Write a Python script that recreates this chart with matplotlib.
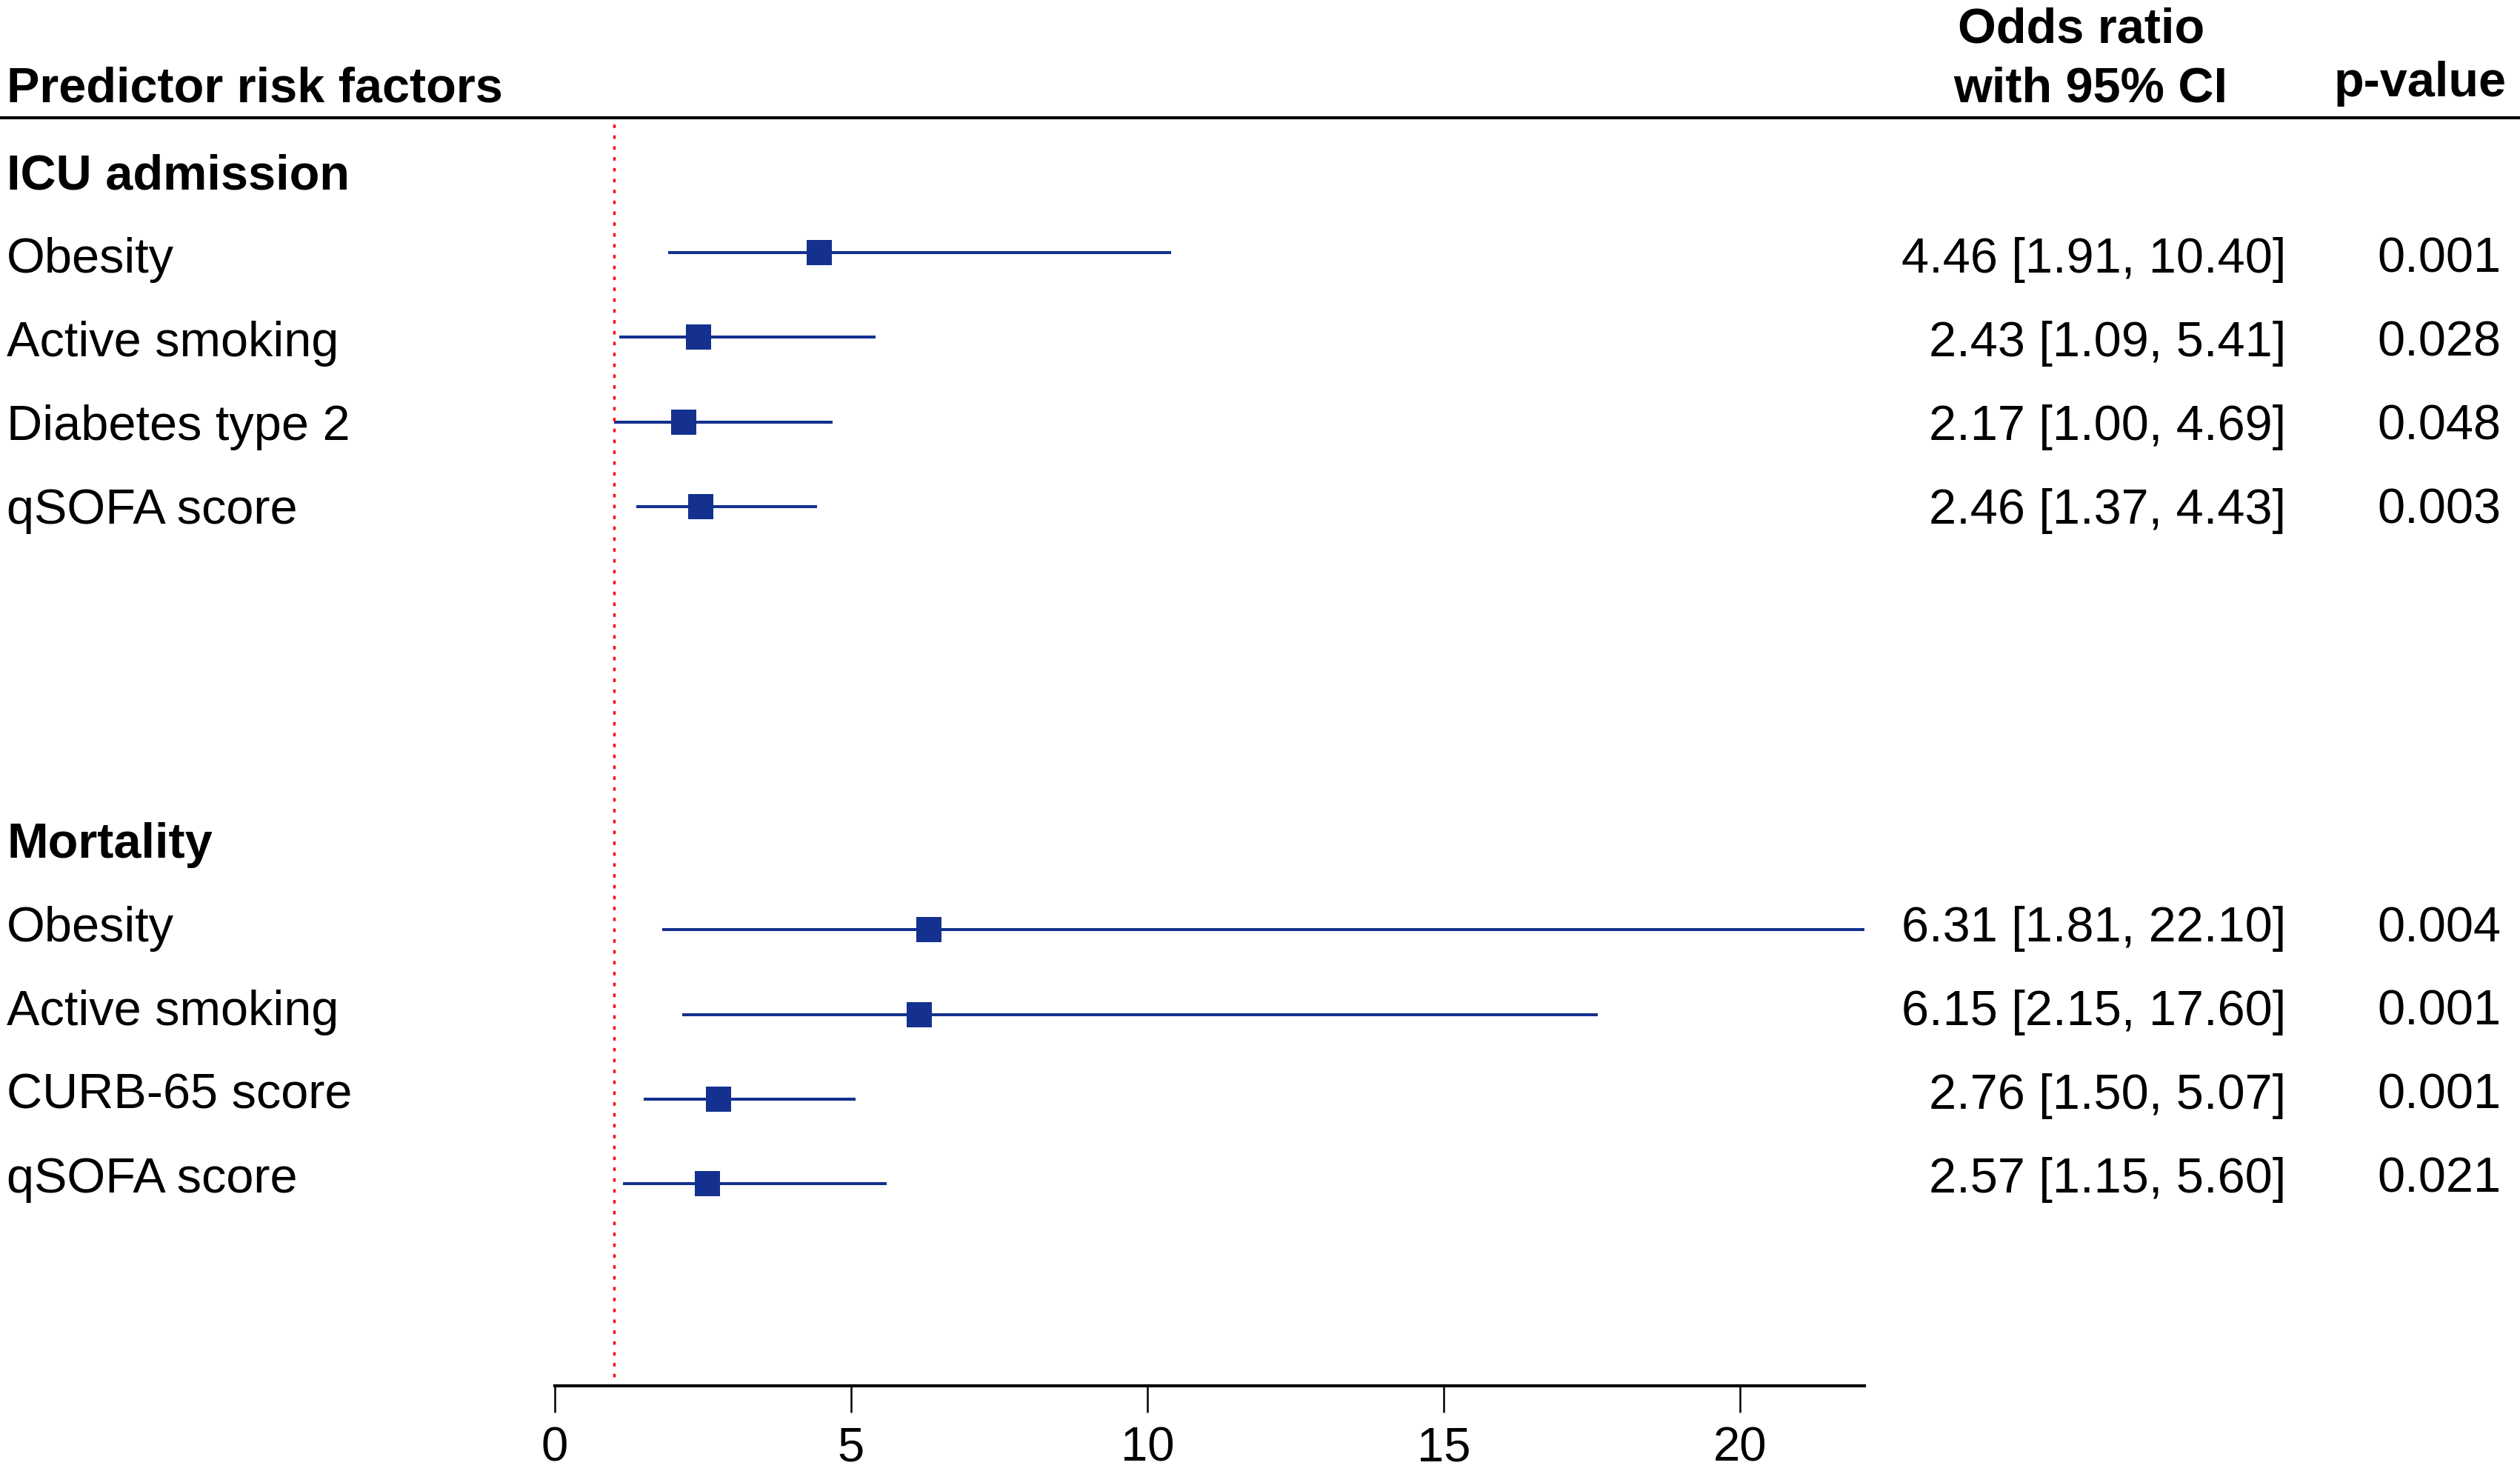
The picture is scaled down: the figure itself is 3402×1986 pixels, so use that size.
import matplotlib
matplotlib.use("Agg")
import matplotlib.pyplot as plt
import numpy as np

plt.rcParams['font.family'] = ['Liberation Sans', 'DejaVu Sans']

# ---- data ----
groups = ["ICU admission", "Mortality"]
icu_factors = ["Obesity", "Active smoking", "Diabetes type 2", "qSOFA score"]
icu_or = [4.46, 2.43, 2.17, 2.46]
icu_lo = [1.91, 1.09, 1.00, 1.37]
icu_hi = [10.40, 5.41, 4.69, 4.43]
icu_p = ["0.001", "0.028", "0.048", "0.003"]

mort_factors = ["Obesity", "Active smoking", "CURB-65 score", "qSOFA score"]
mort_or = [6.31, 6.15, 2.76, 2.57]
mort_lo = [1.81, 2.15, 1.50, 1.15]
mort_hi = [22.10, 17.60, 5.07, 5.60]
mort_p = ["0.004", "0.001", "0.001", "0.021"]

xticks = [0, 5, 10, 15, 20]
ref_line = 1

# row indices (0 = first group header)
icu_rows = [1, 2, 3, 4]
mort_header_row = 8
mort_rows = [9, 10, 11, 12]

W, H = 3402, 1986
fig = plt.figure(figsize=(W / 100, H / 100), dpi=100)

FS = 48
blue = "#14318F"

# overlay axes in pixel coordinates for table text
tx = fig.add_axes([0, 0, 1, 1])
tx.set_xlim(0, W)
tx.set_ylim(H, 0)
tx.axis("off")

row0 = 255
dy = 112.9
def base(r):
    return row0 + r * dy

# header
tx.text(9, 138, "Predictor risk factors", fontsize=FS, fontweight="bold", ha="left", va="baseline")
tx.text(2810, 57, "Odds ratio", fontsize=FS, fontweight="bold", ha="center", va="baseline")
tx.text(2822, 138, "with 95% CI", fontsize=FS, fontweight="bold", ha="center", va="baseline")
tx.text(3384, 130, "p-value", fontsize=FS, fontweight="bold", ha="right", va="baseline")
tx.plot([0, W], [159, 159], color="black", lw=3, solid_capstyle="butt")

tx.text(9, base(0), groups[0], fontsize=FS, fontweight="bold", ha="left", va="baseline")
tx.text(9, base(mort_header_row), groups[1], fontsize=FS, fontweight="bold", ha="left", va="baseline")

all_rows = icu_rows + mort_rows
all_names = icu_factors + mort_factors
all_or = icu_or + mort_or
all_lo = icu_lo + mort_lo
all_hi = icu_hi + mort_hi
all_p = icu_p + mort_p

for r, n, o, lo, hi, p in zip(all_rows, all_names, all_or, all_lo, all_hi, all_p):
    b = base(r)
    tx.text(9, b, n, fontsize=FS, ha="left", va="baseline")
    tx.text(3086, b, f"{o:.2f} [{lo:.2f}, {hi:.2f}]", fontsize=FS, ha="right", va="baseline")
    tx.text(3376, b, p, fontsize=FS, ha="right", va="baseline")

# forest plot axes
left_px, right_px = 749, 2517
top_px, bot_px = 159, 1871
ax = fig.add_axes([left_px / W, (H - bot_px) / H, (right_px - left_px) / W, (bot_px - top_px) / H])
ax.patch.set_alpha(0)
xmax = max(all_hi)
ax.set_xlim(0, xmax)
r1_px, rstep = 341, 114.3
ax.set_ylim(1 + (bot_px - r1_px) / rstep, 1 - (r1_px - top_px) / rstep)

ax.hlines(all_rows, all_lo, all_hi, color=blue, lw=2.9)
ax.plot(all_or, all_rows, "s", color=blue, markersize=24.5, markeredgewidth=0)
ax.axvline(ref_line, ymin=0.007, ymax=1, color="#FF0000", lw=2.4, dashes=(1.4, 3.0))

for s in ["left", "top", "right"]:
    ax.spines[s].set_visible(False)
ax.spines["bottom"].set_linewidth(3)
ax.set_yticks([])
ax.set_xticks(xticks)
ax.set_xticklabels([str(t) for t in xticks])
ax.tick_params(axis="x", length=26, width=1.8, pad=13, labelsize=47, direction="out")

fig.savefig("out.png", dpi=100)
